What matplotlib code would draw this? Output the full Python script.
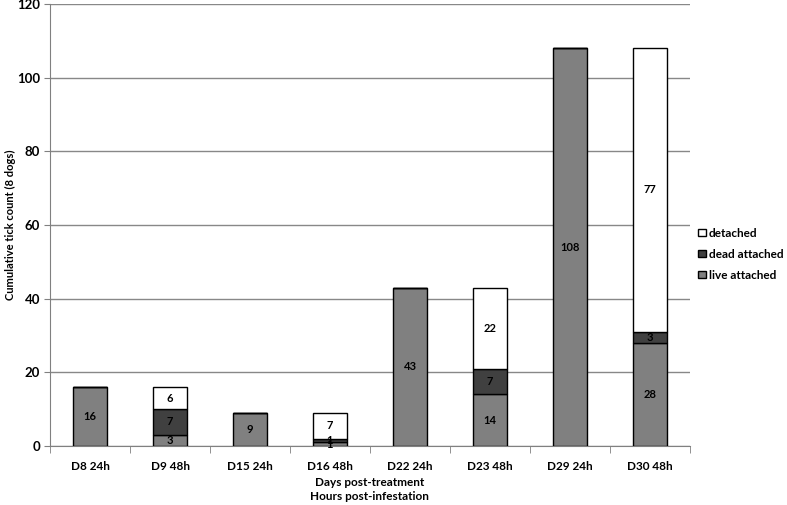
import numpy as np
import matplotlib.pyplot as plt

plt.rcParams['font.family'] = ['Lato', 'DejaVu Sans']
plt.rcParams['font.weight'] = 'bold'

categories = ['D8 24h', 'D9 48h', 'D15 24h', 'D16 48h', 'D22 24h', 'D23 48h', 'D29 24h', 'D30 48h']
live = [16, 3, 9, 1, 43, 14, 108, 28]
dead = [0, 7, 0, 1, 0, 7, 0, 3]
detached = [0, 6, 0, 7, 0, 22, 0, 77]

fig = plt.figure(figsize=(7.87, 5.05), dpi=100)
ax = fig.add_axes([0.0635, 0.117, 0.8135, 0.875])

x = np.arange(len(categories))
width = 0.42
live = np.array(live)
dead = np.array(dead)
detached = np.array(detached)

b1 = ax.bar(x, live, width, color='#808080', edgecolor='black', linewidth=1, label='live attached', zorder=3)
b2 = ax.bar(x, dead, width, bottom=live, color='#404040', edgecolor='black', linewidth=1, label='dead attached', zorder=3)
b3 = ax.bar(x, detached, width, bottom=live + dead, color='white', edgecolor='black', linewidth=1, label='detached', zorder=3)

for vals, bottoms in [(live, 0 * live), (dead, live), (detached, live + dead)]:
    for xi, v, b in zip(x, vals, bottoms):
        if v > 0:
            ax.text(xi, b + v / 2, str(v), ha='center', va='center', fontsize=8, fontweight='bold', zorder=4)

ax.set_xlim(-0.5, len(categories) - 0.5)
ax.set_ylim(0, 120)
ax.set_yticks(range(0, 121, 20))
ax.yaxis.grid(True, color='#888888', linewidth=1)
ax.set_axisbelow(True)

ax.set_xticks(x)
ax.set_xticklabels(categories)
ax.set_xticks(np.arange(-0.5, len(categories)), minor=True)
ax.tick_params(axis='x', which='major', length=0, pad=11, labelsize=8.5)
ax.tick_params(axis='x', which='minor', length=5, color='#808080')
ax.tick_params(axis='y', length=4, color='#808080', labelsize=9.5, pad=3)

for s in ['top', 'right']:
    ax.spines[s].set_visible(False)
ax.spines['left'].set_color('#808080')
ax.spines['bottom'].set_color('#808080')

fig.text(0.013, 0.554, 'Cumulative tick count (8 dogs)', rotation=90, ha='center', va='center',
         fontsize=8, fontweight='bold')
fig.text(0.470, 0.0554, 'Days post-treatment\nHours post-infestation', ha='center', va='top',
         fontsize=8.5, fontweight='bold', linespacing=1.3)

handles = [b3, b2, b1]
ax.legend(handles, [h.get_label() for h in handles], loc='center left', bbox_to_anchor=(1.0, 0.434),
          frameon=False, fontsize=8.5, handlelength=0.6, handleheight=0.6, handletextpad=0.3,
          labelspacing=0.85, borderaxespad=0.3)

fig.savefig('out.png', dpi=100)
